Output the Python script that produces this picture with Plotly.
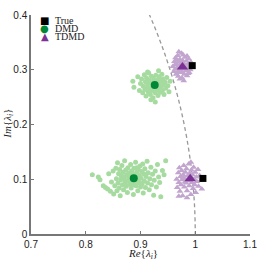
import plotly.graph_objects as go

# ---- data ----
dmd_low_x = [0.812,0.823,0.826,0.832,0.836,0.840,0.842,0.845,0.847,0.850,0.851,0.853,0.855,0.856,0.857,0.858,0.859,0.860,0.861,0.862,0.863,0.864,0.865,0.866,0.867,0.868,0.869,0.870,0.871,0.872,0.873,0.874,0.875,0.876,0.877,0.878,0.879,0.880,0.881,0.882,0.883,0.884,0.885,0.886,0.887,0.888,0.889,0.890,0.891,0.892,0.893,0.894,0.895,0.896,0.897,0.898,0.899,0.900,0.901,0.902,0.903,0.904,0.905,0.906,0.907,0.908,0.909,0.910,0.912,0.913,0.914,0.916,0.917,0.919,0.920,0.922,0.924,0.925,0.927,0.929,0.931,0.933,0.935,0.937,0.940,0.943,0.946,0.870,0.878,0.884,0.890,0.895,0.880,0.886,0.875,0.893,0.899]
dmd_low_y = [0.108,0.104,0.099,0.088,0.085,0.082,0.110,0.078,0.095,0.115,0.073,0.088,0.120,0.101,0.079,0.130,0.093,0.110,0.084,0.118,0.070,0.099,0.106,0.125,0.090,0.113,0.081,0.101,0.134,0.095,0.117,0.087,0.108,0.076,0.121,0.098,0.111,0.091,0.104,0.127,0.084,0.115,0.097,0.109,0.072,0.120,0.093,0.106,0.131,0.088,0.113,0.100,0.079,0.118,0.095,0.107,0.124,0.086,0.102,0.114,0.092,0.128,0.075,0.110,0.097,0.119,0.085,0.105,0.133,0.093,0.112,0.081,0.101,0.122,0.090,0.109,0.071,0.098,0.115,0.086,0.127,0.104,0.094,0.068,0.116,0.108,0.134,0.104,0.105,0.101,0.097,0.104,0.112,0.090,0.097,0.121,0.093]

dmd_up_x = [0.886,0.888,0.895,0.898,0.900,0.902,0.904,0.905,0.907,0.908,0.909,0.910,0.911,0.912,0.913,0.914,0.915,0.916,0.917,0.918,0.919,0.920,0.921,0.922,0.923,0.924,0.925,0.926,0.927,0.928,0.929,0.930,0.931,0.932,0.933,0.934,0.935,0.936,0.937,0.938,0.939,0.940,0.941,0.942,0.943,0.945,0.946,0.948,0.950,0.952,0.954,0.927,0.919,0.933,0.913]
dmd_up_y = [0.279,0.268,0.287,0.262,0.275,0.283,0.258,0.270,0.291,0.264,0.278,0.252,0.285,0.268,0.274,0.260,0.294,0.281,0.266,0.255,0.276,0.288,0.262,0.271,0.249,0.283,0.266,0.278,0.258,0.290,0.270,0.263,0.281,0.253,0.275,0.287,0.267,0.259,0.279,0.270,0.292,0.262,0.283,0.273,0.255,0.277,0.266,0.286,0.271,0.260,0.279,0.241,0.245,0.298,0.296]

tdmd_up_x = [0.959,0.961,0.962,0.963,0.964,0.965,0.966,0.967,0.968,0.969,0.970,0.971,0.972,0.973,0.974,0.975,0.976,0.977,0.978,0.979,0.980,0.981,0.982,0.983,0.984,0.985,0.986,0.987,0.988,0.989,0.990,0.991,0.992,0.972,0.979,0.970,0.978,0.966,0.975,0.980,0.968,0.985,0.963,0.974,0.987]
tdmd_up_y = [0.306,0.297,0.315,0.301,0.322,0.292,0.310,0.304,0.326,0.288,0.314,0.299,0.319,0.295,0.309,0.330,0.285,0.317,0.301,0.312,0.292,0.323,0.306,0.298,0.316,0.289,0.310,0.302,0.320,0.295,0.308,0.300,0.314,0.283,0.280,0.333,0.327,0.318,0.297,0.305,0.296,0.325,0.309,0.312,0.293]

tdmd_low_x = [0.966,0.967,0.969,0.970,0.971,0.972,0.973,0.974,0.975,0.976,0.977,0.978,0.979,0.980,0.981,0.982,0.983,0.984,0.985,0.986,0.987,0.988,0.989,0.990,0.991,0.992,0.993,0.994,0.995,0.996,0.997,0.998,0.999,1.000,1.001,1.002,1.003,1.005,1.006,1.008,1.010,1.012,0.985,0.970,0.992,0.981,0.989,0.978,0.995]
tdmd_low_y = [0.100,0.085,0.112,0.094,0.121,0.078,0.105,0.090,0.116,0.099,0.070,0.108,0.125,0.086,0.101,0.113,0.093,0.119,0.079,0.106,0.097,0.128,0.088,0.111,0.103,0.072,0.117,0.094,0.108,0.083,0.122,0.100,0.090,0.113,0.076,0.104,0.096,0.118,0.087,0.107,0.098,0.082,0.066,0.069,0.131,0.095,0.099,0.103,0.101]

true_x = [0.9945, 1.0140]
true_y = [0.3075, 0.1015]
dmd_mean_x = [0.926, 0.8877]
dmd_mean_y = [0.272, 0.1020]
tdmd_mean_x = [0.9766, 0.9907]
tdmd_mean_y = [0.3050, 0.1010]

x_ticks = [0.7, 0.8, 0.9, 1.0, 1.1]
x_labels = ["0.7", "0.8", "0.9", "1", "1.1"]
y_ticks = [0, 0.1, 0.2, 0.3, 0.4]
y_labels = ["0", "0.1", "0.2", "0.3", "0.4"]

LG = "#a6dba0"; DG = "#008837"; LP = "#c2a5cf"; DP = "#7b3294"

fig = go.Figure()
fig.add_shape(type="circle", xref="x", yref="y", x0=-1, y0=-1, x1=1, y1=1,
              line=dict(color="#999999", width=1.3, dash="4px,3px"), layer="below")
fig.add_trace(go.Scatter(x=dmd_low_x + dmd_up_x, y=dmd_low_y + dmd_up_y, mode="markers",
                         marker=dict(symbol="circle", size=5, color=LG), showlegend=False, hoverinfo="skip"))
fig.add_trace(go.Scatter(x=tdmd_low_x + tdmd_up_x, y=tdmd_low_y + tdmd_up_y, mode="markers",
                         marker=dict(symbol="triangle-up", size=6, color=LP), showlegend=False, hoverinfo="skip"))
fig.add_trace(go.Scatter(x=dmd_mean_x, y=dmd_mean_y, mode="markers",
                         marker=dict(symbol="circle", size=8, color=DG), showlegend=False))
fig.add_trace(go.Scatter(x=tdmd_mean_x, y=tdmd_mean_y, mode="markers",
                         marker=dict(symbol="triangle-up", size=10, color=DP), showlegend=False))
fig.add_trace(go.Scatter(x=true_x, y=true_y, mode="markers",
                         marker=dict(symbol="square", size=7, color="black"), showlegend=False))

serif = "Liberation Serif"
legend_items = [("■", "black", "True"), ("●", DG, "DMD"), ("▲", DP, "TDMD")]
legend_y = [0.973, 0.937, 0.901]
for (sym, col, txt), yy in zip(legend_items, legend_y):
    fig.add_annotation(xref="paper", yref="paper", x=0.062, y=yy, text=sym, showarrow=False,
                       font=dict(family="DejaVu Sans", size=10, color=col), xanchor="center", yanchor="middle")
    fig.add_annotation(xref="paper", yref="paper", x=0.102, y=yy, text=txt, showarrow=False,
                       font=dict(family=serif, size=10, color="#222"), xanchor="left", yanchor="middle")

fig.add_annotation(xref="paper", yref="paper", x=0.51, y=-0.05, text="<i>Re</i>{<i>λ<sub>i</sub></i>}",
                   showarrow=False, font=dict(family=serif, size=11, color="#222"), xanchor="center", yanchor="top")
fig.add_annotation(xref="paper", yref="paper", x=-0.104, y=0.505, text="<i>Im</i>{<i>λ<sub>i</sub></i>}",
                   showarrow=False, textangle=-90, font=dict(family=serif, size=11, color="#222"),
                   xanchor="center", yanchor="middle")

axis_common = dict(showgrid=False, zeroline=False, showline=True, linecolor="#777777", linewidth=1.5,
                   ticks="inside", ticklen=3, tickcolor="#777777", tickwidth=1,
                   tickfont=dict(family="Liberation Sans", size=10, color="#222"))
fig.update_xaxes(range=[0.7, 1.1], tickvals=x_ticks, ticktext=x_labels, **axis_common)
fig.update_yaxes(range=[0, 0.4], tickvals=y_ticks, ticktext=y_labels, **axis_common)
fig.update_layout(width=266, height=260, margin=dict(l=31, r=9, t=9, b=26),
                  plot_bgcolor="white", paper_bgcolor="white", showlegend=False)
fig.write_html("out.html", config={"displayModeBar": False},
               post_script="document.body.style.margin='0';document.body.style.overflow='hidden';")
